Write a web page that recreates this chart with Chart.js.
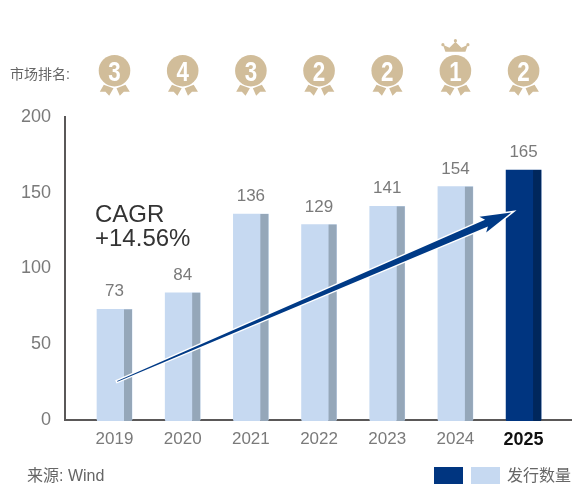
<!DOCTYPE html>
<html lang="zh">
<head>
  <meta charset="UTF-8" />
  <title>发行数量</title>
  <script src="https://cdn.jsdelivr.net/npm/chart.js"></script>
  <style>
    body { margin: 0; background: #fff; }
    canvas { display: block; }
  </style>
</head>
<body>
  <canvas id="chart" width="572" height="484"></canvas>
  <script>
    const years = [2019, 2020, 2021, 2022, 2023, 2024, 2025];
    const issued = [73, 84, 136, 129, 141, 154, 165];
    const ranks = [3, 4, 3, 2, 2, 1, 2];
    const yTicks = [0, 50, 100, 150, 200];

    const FONT = '"Liberation Sans", "Noto Sans CJK SC", sans-serif';
    const GRAY = '#7a7a7a';
    const TAN = '#d1bd9a';

    function text(ctx, str, x, y, font, color, align) {
      ctx.font = font;
      ctx.fillStyle = color;
      ctx.textAlign = align || 'left';
      ctx.textBaseline = 'alphabetic';
      ctx.fillText(str, x, y);
    }

    function poly(ctx, pts) {
      ctx.beginPath();
      pts.forEach((p, i) => i ? ctx.lineTo(p[0], p[1]) : ctx.moveTo(p[0], p[1]));
      ctx.closePath();
      ctx.fill();
    }

    function drawMedal(ctx, x, y, rank) {
      ctx.fillStyle = TAN;
      ctx.beginPath();
      ctx.arc(x, y, 15.8, 0, Math.PI * 2);
      ctx.fill();
      poly(ctx, [[x - 10.7, y + 14], [x - 1, y + 17.5], [x - 5.3, y + 25], [x - 9, y + 21], [x - 14.7, y + 21]]);
      poly(ctx, [[x + 2, y + 17.5], [x + 11, y + 14], [x + 15.3, y + 21], [x + 9.3, y + 21], [x + 5.3, y + 25]]);
      if (rank === 1) {
        // crown
        poly(ctx, [[x - 10, y - 19], [x - 12.5, y - 26], [x - 6, y - 23], [x, y - 29], [x + 6, y - 23], [x + 12.5, y - 26], [x + 10, y - 19]]);
        [[-12.5, -26], [0, -30], [12.5, -26]].forEach(o => {
          ctx.beginPath();
          ctx.arc(x + o[0], y + o[1], 1.6, 0, Math.PI * 2);
          ctx.fill();
        });
      }
      // narrow numeral
      ctx.save();
      ctx.translate(x, y + 10);
      ctx.scale(0.8, 1);
      text(ctx, String(rank), 0, 0, 'bold 28px ' + FONT, '#fff', 'center');
      ctx.restore();
    }

    function drawArrow(ctx, sx, sy, ex, ey) {
      const len = Math.hypot(ex - sx, ey - sy);
      const dx = (ex - sx) / len, dy = (ey - sy) / len;
      const nx = -dy, ny = dx;
      const at = (along, side) => [sx + dx * along + nx * side, sy + dy * along + ny * side];
      const pts = [
        at(0, -0.3), at(len - 27, -3.6), at(len - 31, -8.5), at(len, 0),
        at(len - 31, 8.5), at(len - 27, 3.6), at(0, 0.3)
      ];
      ctx.save();
      ctx.lineJoin = 'miter';
      ctx.strokeStyle = '#fff';
      ctx.lineWidth = 3;
      ctx.beginPath();
      pts.forEach((p, i) => i ? ctx.lineTo(p[0], p[1]) : ctx.moveTo(p[0], p[1]));
      ctx.closePath();
      ctx.stroke();
      ctx.fillStyle = '#003a86';
      ctx.fill();
      ctx.restore();
    }

    const extras = {
      id: 'extras',
      afterDatasetsDraw(chart) {
        const ctx = chart.ctx;
        const xs = chart.scales.x, ys = chart.scales.y;
        ctx.save();

        chart.getDatasetMeta(0).data.forEach((bar, i) => {
          const right = bar.x + bar.width / 2;
          // side face of the bar
          ctx.fillStyle = years[i] === 2025 ? '#00275c' : '#95a7b9';
          ctx.fillRect(right - 8, bar.y, 8, bar.base - bar.y + 1);
          ctx.fillStyle = years[i] === 2025 ? '#003580' : '#c6d9f1';
          ctx.fillRect(bar.x - bar.width / 2, bar.base, bar.width - 8, 1);
          text(ctx, String(issued[i]), bar.x, bar.y - 13, '17px ' + FONT, GRAY, 'center');
        });

        years.forEach((year, i) => drawMedal(ctx, xs.getPixelForValue(year), 70.7, ranks[i]));
        text(ctx, '市场排名:', 10, 79, '14px ' + FONT, '#666');

        drawArrow(ctx, xs.getPixelForValue(2019.04), ys.getPixelForValue(25.5),
          xs.getPixelForValue(2024.82), ys.getPixelForValue(137));

        text(ctx, 'CAGR', 95, 222, '24px ' + FONT, '#333');
        text(ctx, '+14.56%', 95, 246, '24px ' + FONT, '#333');

        text(ctx, '来源: Wind', 27, 481, '16px ' + FONT, '#666');
        ctx.fillStyle = '#003580';
        ctx.fillRect(434, 467, 29, 17);
        ctx.fillStyle = '#c6d9f1';
        ctx.fillRect(471, 467, 29, 17);
        text(ctx, '发行数量', 507, 481, '16px ' + FONT, '#666');
        ctx.restore();
      }
    };

    const isLast = ctx => ctx.tick && ctx.tick.value === 2025;

    new Chart(document.getElementById('chart'), {
      type: 'bar',
      data: {
        datasets: [{
          label: '发行数量',
          data: years.map((y, i) => ({ x: y, y: issued[i] })),
          backgroundColor: years.map(y => y === 2025 ? '#003580' : '#c6d9f1'),
          barThickness: 35,
          borderWidth: 0
        }]
      },
      options: {
        responsive: false,
        animation: false,
        layout: { padding: { top: 117, right: 0, left: 0, bottom: 0 } },
        plugins: { legend: { display: false }, tooltip: { enabled: false } },
        scales: {
          x: {
            type: 'linear',
            offset: false,
            min: 2018.274,
            max: 2025.71,
            afterBuildTicks: scale => { scale.ticks = years.map(v => ({ value: v })); },
            afterFit: scale => { scale.height = 64; },
            grid: { display: false, drawTicks: false, offset: false },
            border: { color: '#5a5858', width: 2 },
            ticks: {
              autoSkip: false,
              maxRotation: 0,
              padding: 9,
              callback: v => String(v),
              color: ctx => isLast(ctx) ? '#111' : GRAY,
              font: ctx => ({
                family: FONT,
                size: isLast(ctx) ? 18 : 17,
                weight: isLast(ctx) ? 'bold' : 'normal'
              })
            }
          },
          y: {
            min: 0,
            max: 200,
            afterBuildTicks: scale => { scale.ticks = yTicks.map(v => ({ value: v })); },
            afterFit: scale => { scale.width = 65; },
            grid: { display: false, drawTicks: false },
            border: { color: '#5a5858', width: 2 },
            ticks: {
              padding: 14,
              color: GRAY,
              font: { family: FONT, size: 18 }
            }
          }
        }
      },
      plugins: [extras]
    });
  </script>
</body>
</html>
